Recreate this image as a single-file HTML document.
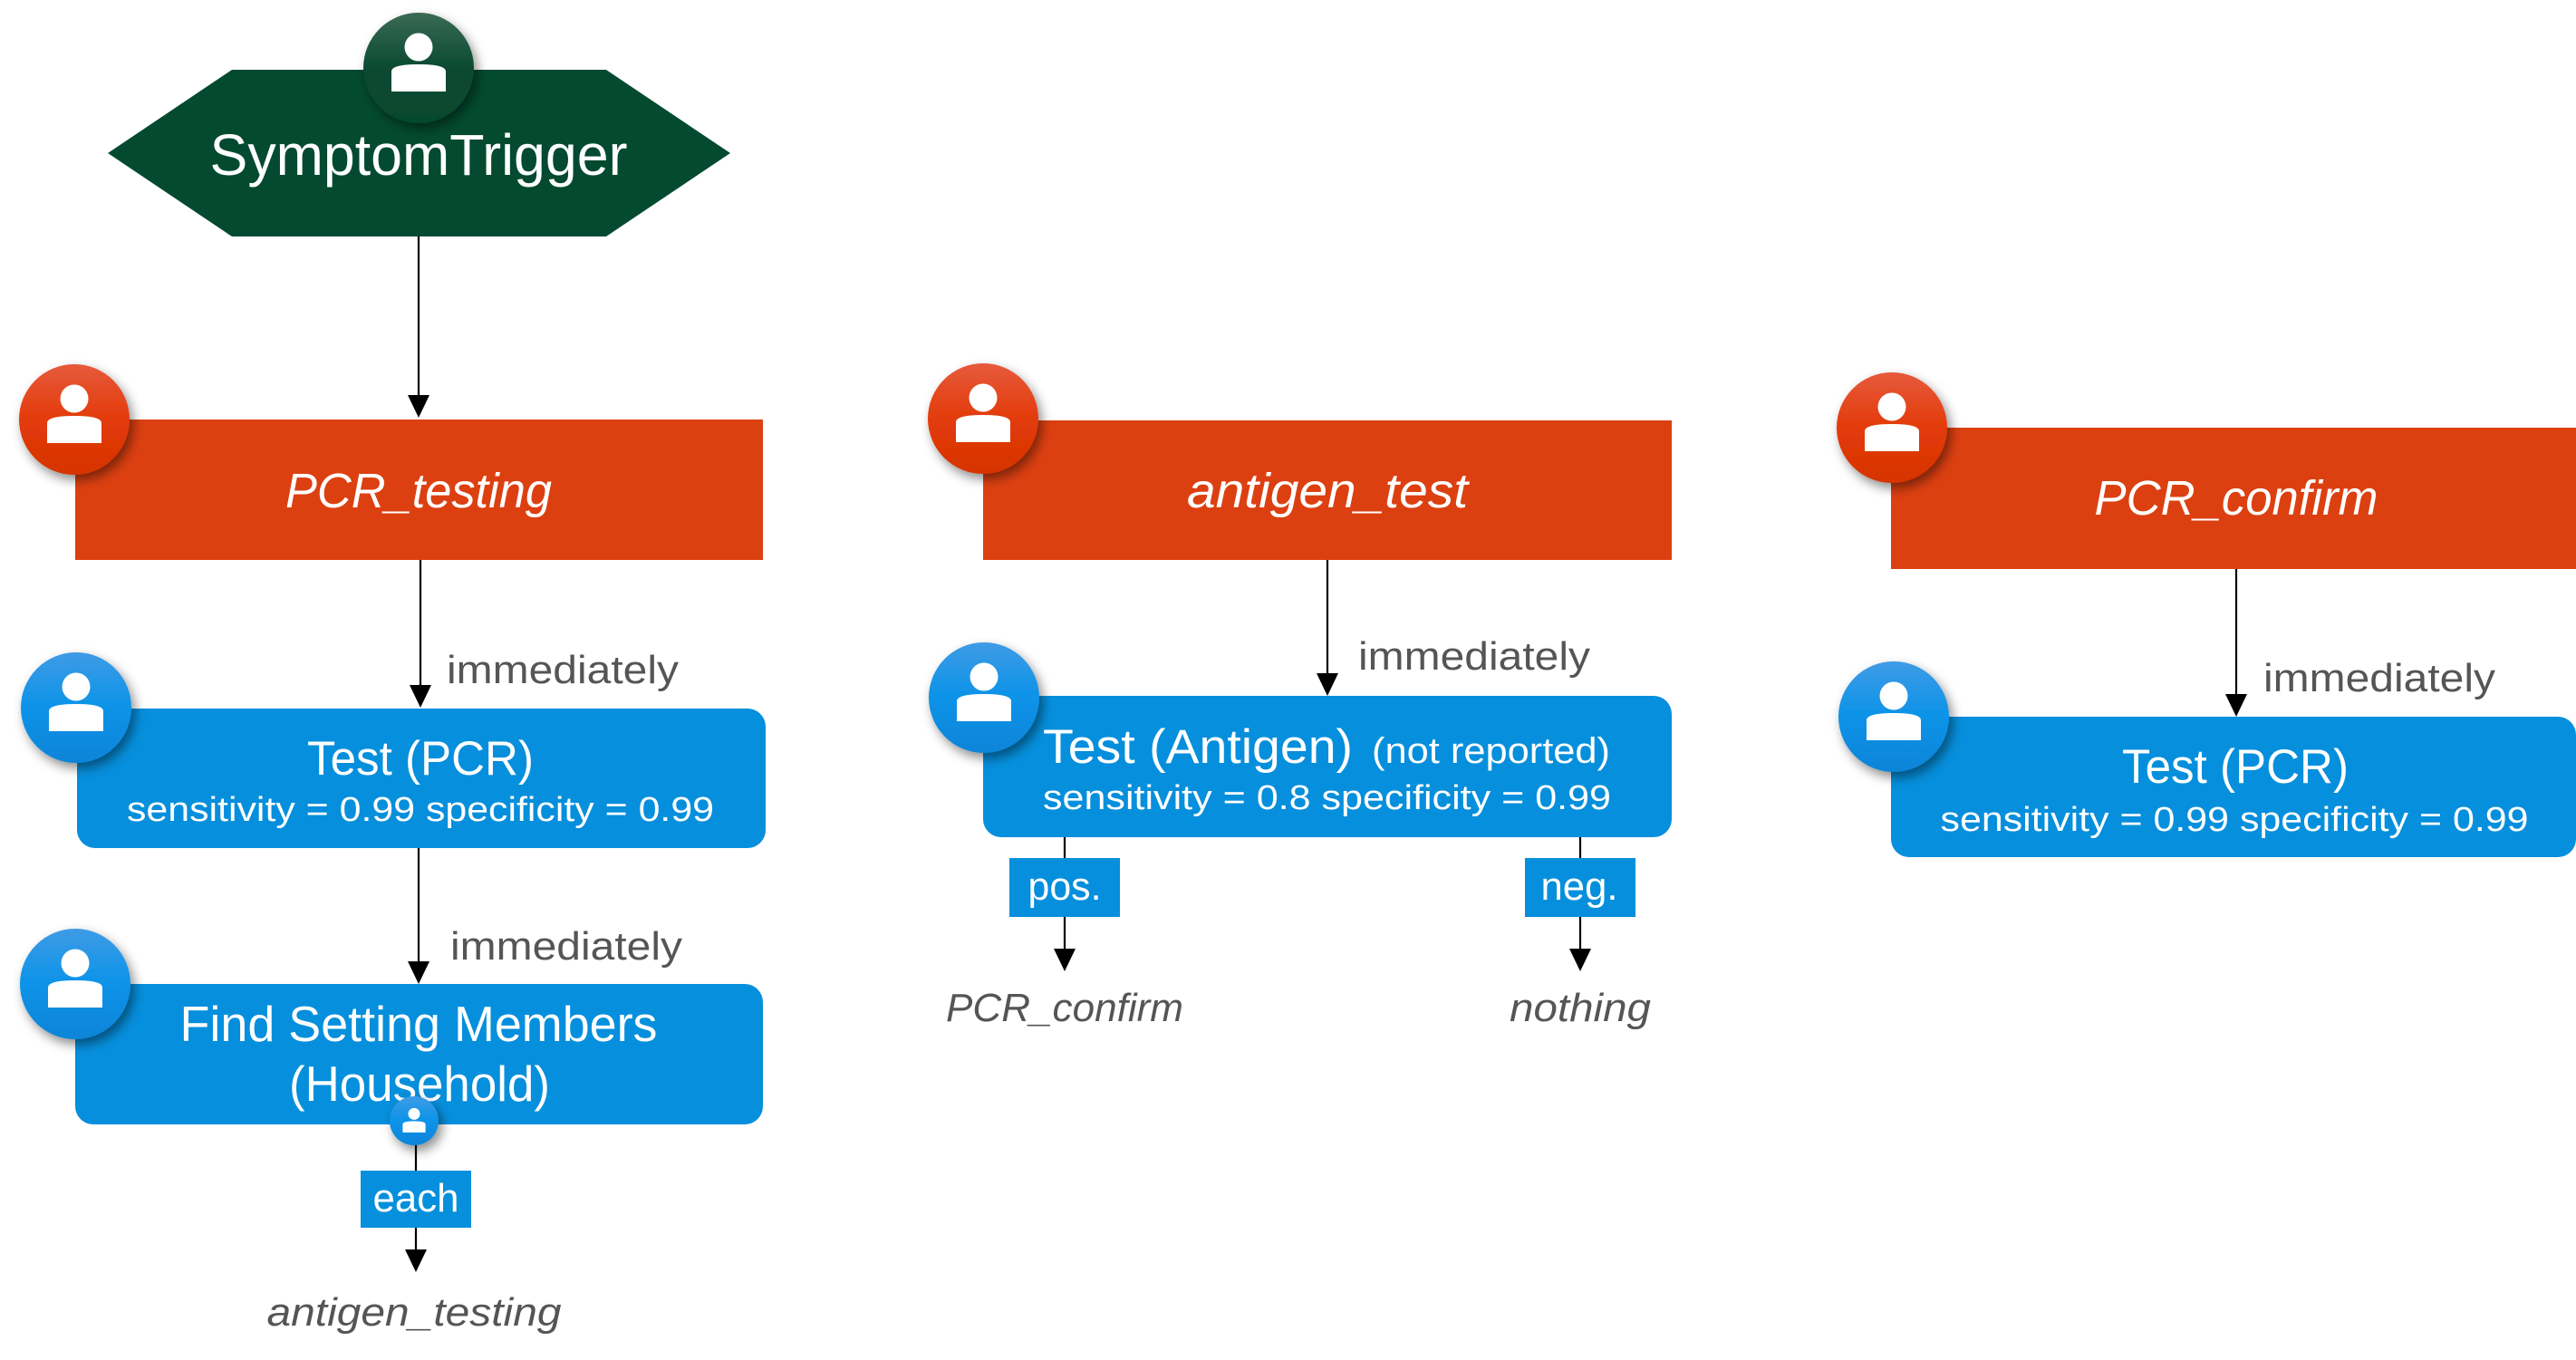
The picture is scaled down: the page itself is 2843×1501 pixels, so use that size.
<!DOCTYPE html>
<html><head><meta charset="utf-8"><style>
html,body{margin:0;padding:0;background:#fff;}
svg{display:block;}
text{font-family:"Liberation Sans",sans-serif;}
</style></head><body>
<svg width="2843" height="1501" viewBox="0 0 2843 1501" xmlns="http://www.w3.org/2000/svg">
<defs>
<filter id="sh" x="-50%" y="-50%" width="200%" height="200%"><feDropShadow dx="4" dy="6" stdDeviation="6" flood-color="#000" flood-opacity="0.45"/></filter>
<linearGradient id="gr" x1="0" y1="0" x2="0" y2="1"><stop offset="0" stop-color="#e65a3c"/><stop offset="0.5" stop-color="#e33b0a"/><stop offset="1" stop-color="#d63300"/></linearGradient>
<linearGradient id="gb" x1="0" y1="0" x2="0" y2="1"><stop offset="0" stop-color="#3f9be6"/><stop offset="0.5" stop-color="#0b93e8"/><stop offset="1" stop-color="#0784d8"/></linearGradient>
<linearGradient id="gg" x1="0" y1="0" x2="0" y2="1"><stop offset="0" stop-color="#3b6a55"/><stop offset="0.5" stop-color="#0a4a32"/><stop offset="1" stop-color="#064a2e"/></linearGradient>
<g id="ic"><circle cx="0" cy="-23" r="15.5" fill="#fff"/><path d="M-30,26 L-30,4 Q-30,-4 0,-4 Q30,-4 30,4 L30,26 Z" fill="#fff"/></g>
<marker id="ar" viewBox="0 0 10 10" refX="10" refY="5" markerWidth="16" markerHeight="16" markerUnits="userSpaceOnUse" orient="auto"><path d="M0,0 L10,5 L0,10 Z" fill="#000"/></marker>
</defs>
<g stroke="#000" stroke-width="2.2" fill="none">
<line x1="462" y1="261" x2="462" y2="452"/>
<line x1="464" y1="618" x2="464" y2="772"/>
<line x1="462" y1="936" x2="462" y2="1077"/>
<line x1="459" y1="1260" x2="459" y2="1395"/>
<line x1="1465" y1="618" x2="1465" y2="759"/>
<line x1="1175" y1="924" x2="1175" y2="1063"/>
<line x1="1744" y1="924" x2="1744" y2="1063"/>
<line x1="2468" y1="628" x2="2468" y2="782"/>
</g>
<g fill="#000">
<path d="M450,436 L474,436 L462,461 Z"/>
<path d="M452,756 L476,756 L464,781 Z"/>
<path d="M450,1061 L474,1061 L462,1086 Z"/>
<path d="M447,1379 L471,1379 L459,1404 Z"/>
<path d="M1453,743 L1477,743 L1465,768 Z"/>
<path d="M1163,1047 L1187,1047 L1175,1072 Z"/>
<path d="M1732,1047 L1756,1047 L1744,1072 Z"/>
<path d="M2456,766 L2480,766 L2468,791 Z"/>
</g>
<!-- hexagon -->
<polygon points="119,169 256,77 669,77 806,169 669,261 256,261" fill="#034a30"/>
<circle cx="462" cy="75" r="61" fill="url(#gg)" filter="url(#sh)"/>
<use href="#ic" x="462" y="75"/>
<text x="462" y="193" fill="#fff" font-size="64" text-anchor="middle" textLength="461" lengthAdjust="spacingAndGlyphs">SymptomTrigger</text>
<!-- red headers -->
<rect x="83" y="463" width="759" height="155" fill="#dc4011"/>
<rect x="1085" y="464" width="760" height="154" fill="#dc4011"/>
<rect x="2087" y="472" width="760" height="156" fill="#dc4011"/>
<text x="462" y="560" fill="#fff" font-size="54" font-style="italic" text-anchor="middle" textLength="294" lengthAdjust="spacingAndGlyphs">PCR_testing</text>
<text x="1465" y="560" fill="#fff" font-size="54" font-style="italic" text-anchor="middle" textLength="310" lengthAdjust="spacingAndGlyphs">antigen_test</text>
<text x="2468" y="568" fill="#fff" font-size="54" font-style="italic" text-anchor="middle" textLength="313" lengthAdjust="spacingAndGlyphs">PCR_confirm</text>
<circle cx="82" cy="463" r="61" fill="url(#gr)" filter="url(#sh)"/><use href="#ic" x="82" y="463"/>
<circle cx="1085" cy="462" r="61" fill="url(#gr)" filter="url(#sh)"/><use href="#ic" x="1085" y="462"/>
<circle cx="2088" cy="472" r="61" fill="url(#gr)" filter="url(#sh)"/><use href="#ic" x="2088" y="472"/>
<!-- blue boxes -->
<rect x="85" y="782" width="760" height="154" rx="20" fill="#068fdc"/>
<rect x="83" y="1086" width="759" height="155" rx="20" fill="#068fdc"/>
<rect x="1085" y="768" width="760" height="156" rx="20" fill="#068fdc"/>
<rect x="2087" y="791" width="756" height="155" rx="20" fill="#068fdc"/>
<circle cx="84" cy="781" r="61" fill="url(#gb)" filter="url(#sh)"/><use href="#ic" x="84" y="781"/>
<circle cx="83" cy="1086" r="61" fill="url(#gb)" filter="url(#sh)"/><use href="#ic" x="83" y="1086"/>
<circle cx="1086" cy="770" r="61" fill="url(#gb)" filter="url(#sh)"/><use href="#ic" x="1086" y="770"/>
<circle cx="2090" cy="791" r="61" fill="url(#gb)" filter="url(#sh)"/><use href="#ic" x="2090" y="791"/>
<g fill="#fff">
<text x="464" y="855" font-size="53" text-anchor="middle" textLength="250" lengthAdjust="spacingAndGlyphs">Test (PCR)</text>
<text x="464" y="906" font-size="38" text-anchor="middle" textLength="648" lengthAdjust="spacingAndGlyphs">sensitivity = 0.99 specificity = 0.99</text>
<text x="462" y="1149" font-size="55" text-anchor="middle" textLength="527" lengthAdjust="spacingAndGlyphs">Find Setting Members</text>
<text x="463" y="1215" font-size="55" text-anchor="middle" textLength="288" lengthAdjust="spacingAndGlyphs">(Household)</text>
<text x="1151" y="842" font-size="53" textLength="342" lengthAdjust="spacingAndGlyphs">Test (Antigen)</text>
<text x="1514" y="842" font-size="40" textLength="263" lengthAdjust="spacingAndGlyphs">(not reported)</text>
<text x="1151" y="893" font-size="38" textLength="627" lengthAdjust="spacingAndGlyphs">sensitivity = 0.8 specificity = 0.99</text>
<text x="2467" y="864" font-size="53" text-anchor="middle" textLength="250" lengthAdjust="spacingAndGlyphs">Test (PCR)</text>
<text x="2466" y="917" font-size="38" text-anchor="middle" textLength="649" lengthAdjust="spacingAndGlyphs">sensitivity = 0.99 specificity = 0.99</text>
</g>
<circle cx="457" cy="1237" r="27" fill="url(#gb)" filter="url(#sh)"/>
<g transform="translate(457,1239) scale(0.42)"><use href="#ic"/></g>
<!-- labels -->
<rect x="398" y="1292" width="122" height="63" fill="#068fdc"/>
<rect x="1114" y="947" width="122" height="65" fill="#068fdc"/>
<rect x="1683" y="947" width="122" height="65" fill="#068fdc"/>
<g fill="#fff" font-size="44">
<text x="459" y="1337" text-anchor="middle" textLength="95" lengthAdjust="spacingAndGlyphs">each</text>
<text x="1175" y="993" text-anchor="middle" textLength="81" lengthAdjust="spacingAndGlyphs">pos.</text>
<text x="1743" y="993" text-anchor="middle" textLength="85" lengthAdjust="spacingAndGlyphs">neg.</text>
</g>
<g fill="#555" font-size="44">
<text x="493" y="754" textLength="256" lengthAdjust="spacingAndGlyphs">immediately</text>
<text x="497" y="1059" textLength="256" lengthAdjust="spacingAndGlyphs">immediately</text>
<text x="1499" y="739" textLength="256" lengthAdjust="spacingAndGlyphs">immediately</text>
<text x="2498" y="763" textLength="256" lengthAdjust="spacingAndGlyphs">immediately</text>
<g font-style="italic">
<text x="457" y="1463" text-anchor="middle" textLength="325" lengthAdjust="spacingAndGlyphs">antigen_testing</text>
<text x="1175" y="1127" text-anchor="middle" textLength="262" lengthAdjust="spacingAndGlyphs">PCR_confirm</text>
<text x="1744" y="1127" text-anchor="middle" textLength="156" lengthAdjust="spacingAndGlyphs">nothing</text>
</g>
</g>
</svg>
</body></html>
